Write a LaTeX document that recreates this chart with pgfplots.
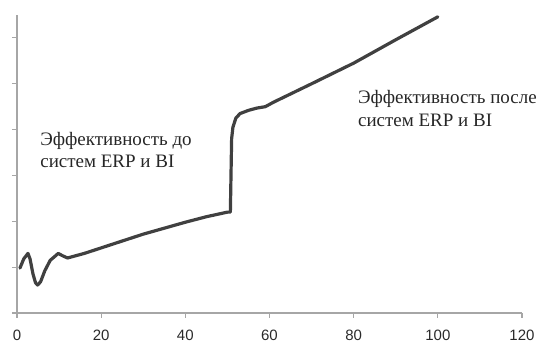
\documentclass[border=0pt]{standalone}
\usepackage{pgfplots}
\pgfplotsset{compat=1.18}
\usepackage{fontspec}
\setmainfont{Liberation Serif}
\setsansfont{Liberation Sans}
\definecolor{axisgray}{HTML}{A6A6A6}
\definecolor{linegray}{HTML}{404040}
\definecolor{ticktext}{HTML}{2A2A2A}
\begin{document}
\begin{tikzpicture}
\useasboundingbox (-17pt,-30pt) rectangle (525pt,313pt);
\begin{axis}[
  scale only axis,
  width=505pt, height=298pt,
  xmin=0, xmax=120, ymin=0, ymax=6.5,
  axis lines*=left,
  axis line style={axisgray, line width=1.3pt},
  xtick={0,20,40,60,80,100,120},
  ytick={0,1,2,3,4,5,6},
  yticklabels={},
  tick style={axisgray, line width=1.1pt},
  tick align=outside,
  major tick length=5pt,
  x tick label style={font=\sffamily\fontsize{15}{15}\selectfont, text=ticktext, anchor=north, yshift=-8pt},
  /pgf/number format/assume math mode=true,
  clip=false,
]
\addplot[linegray, line width=3.2pt, line join=round, line cap=round, no marks] coordinates {
(0.7,0.98) (1.6,1.18) (2.6,1.30) (3.1,1.18) (3.8,0.85) (4.4,0.66) (4.9,0.61) (5.6,0.68)
(6.6,0.92) (7.9,1.15) (8.8,1.22) (9.8,1.30) (10.8,1.25) (12,1.20)
(16,1.30) (20,1.42) (25,1.57) (30,1.72) (35,1.85) (40,1.98) (45,2.10) (50,2.20)
(50.7,2.20) (51.0,3.80) (51.3,4.05) (52,4.25) (53,4.35) (55,4.42) (57,4.47) (59,4.50) (61,4.60)
(70,5.00) (80,5.45) (90,5.96) (100,6.46)
};
\node[anchor=base west, inner sep=0pt, font=\fontsize{19}{22}\selectfont, text=black!85] at (axis cs:5.5,3.66) {Эффективность до};
\node[anchor=base west, inner sep=0pt, font=\fontsize{19}{22}\selectfont, text=black!85] at (axis cs:5.5,3.18) {систем ERP и BI};
\node[anchor=base west, inner sep=0pt, font=\fontsize{19}{22}\selectfont, text=black!85] at (axis cs:81,4.58) {Эффективность после};
\node[anchor=base west, inner sep=0pt, font=\fontsize{19}{22}\selectfont, text=black!85] at (axis cs:81,4.06) {систем ERP и BI};
\end{axis}
\end{tikzpicture}
\end{document}
